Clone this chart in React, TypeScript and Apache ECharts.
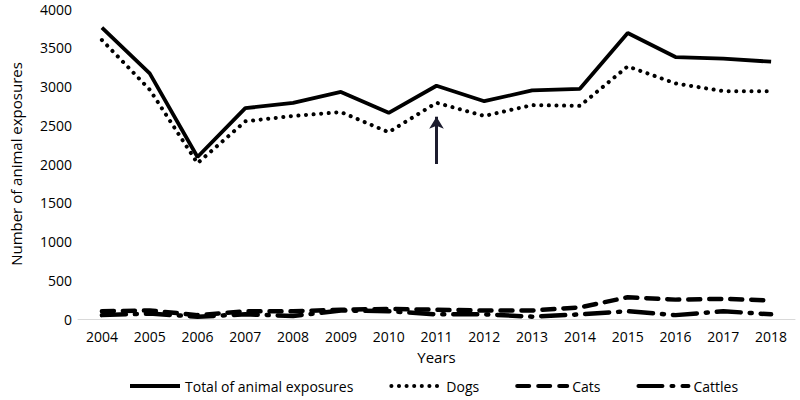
import React, { useEffect, useRef } from "react";
import * as echarts from "echarts";

const years = ["2004","2005","2006","2007","2008","2009","2010","2011","2012","2013","2014","2015","2016","2017","2018"];
const total = [3760, 3170, 2090, 2720, 2790, 2930, 2660, 3010, 2810, 2950, 2970, 3690, 3380, 3360, 3320];
const dogs = [3600, 2960, 2010, 2550, 2620, 2670, 2410, 2790, 2620, 2760, 2750, 3260, 3040, 2940, 2940];
const cats = [100, 110, 50, 100, 100, 120, 130, 120, 110, 110, 150, 280, 250, 260, 240];
const cattles = [50, 70, 30, 60, 40, 110, 100, 60, 60, 30, 60, 100, 50, 100, 60];
const arrowYear = "2011";
const arrowFrom = 2000;
const arrowTo = 2610;

const FONT = "Open Sans";

export default function App() {
  const ref = useRef<HTMLDivElement>(null);
  useEffect(() => {
    if (!ref.current) return;
    const chart = echarts.init(ref.current, undefined, { renderer: "svg" });
    chart.setOption({
      animation: false,
      textStyle: { fontFamily: FONT, color: "#000" },
      grid: { left: 69, right: 5, top: 9, bottom: 81, containLabel: false },
      legend: {
        top: 374,
        left: 123,
        itemWidth: 50,
        itemHeight: 10,
        itemGap: 36,
        itemStyle: { opacity: 0 },
        lineStyle: { width: 4 },
        textStyle: { fontFamily: FONT, fontSize: 14, color: "#000" },
        data: ["Total of animal exposures", "Dogs", "Cats", "Cattles"],
      },
      xAxis: {
        type: "category",
        data: years,
        boundaryGap: true,
        name: "Years",
        nameLocation: "middle",
        nameGap: 30,
        nameTextStyle: { fontFamily: FONT, fontSize: 15, color: "#000" },
        axisLine: { lineStyle: { color: "#d9d9d9", width: 1 } },
        axisTick: { show: false },
        axisLabel: { fontFamily: FONT, fontSize: 14, color: "#000", margin: 10 },
      },
      yAxis: {
        type: "value",
        min: 0,
        max: 4000,
        interval: 500,
        name: "Number of animal exposures",
        nameLocation: "middle",
        nameGap: 55,
        nameTextStyle: { fontFamily: FONT, fontSize: 15, color: "#000" },
        axisLine: { show: false },
        axisTick: { show: false },
        splitLine: { show: false },
        axisLabel: { fontFamily: FONT, fontSize: 14, color: "#000", margin: 6, formatter: (v: number) => String(v) },
      },
      series: [
        {
          name: "Total of animal exposures",
          type: "line",
          data: total,
          symbol: "none",
          lineStyle: { color: "#000", width: 3.8, type: "solid" },
          itemStyle: { color: "#000" },
        },
        {
          name: "Dogs",
          type: "line",
          data: dogs,
          symbol: "none",
          lineStyle: { color: "#000", width: 4, type: [0.1, 7.5], cap: "round" },
          itemStyle: { color: "#000" },
          markLine: {
            silent: true,
            symbol: ["none", "arrow"],
            symbolSize: [11, 12],
            label: { show: false },
            lineStyle: { color: "#1c1c2e", width: 3, type: "solid" },
            data: [[{ coord: [arrowYear, arrowFrom] }, { coord: [arrowYear, arrowTo] }]],
          },
        },
        {
          name: "Cats",
          type: "line",
          data: cats,
          symbol: "none",
          lineStyle: { color: "#000", width: 4.5, type: [12, 9], cap: "round" },
          itemStyle: { color: "#000" },
        },
        {
          name: "Cattles",
          type: "line",
          data: cattles,
          symbol: "none",
          lineStyle: { color: "#000", width: 4.5, type: [24, 9, 2, 9], cap: "round" },
          itemStyle: { color: "#000" },
        },
      ],
    });
    return () => chart.dispose();
  }, []);
  return <div ref={ref} style={{ position: "absolute", left: 0, top: 0, width: 800, height: 400 }} />;
}
